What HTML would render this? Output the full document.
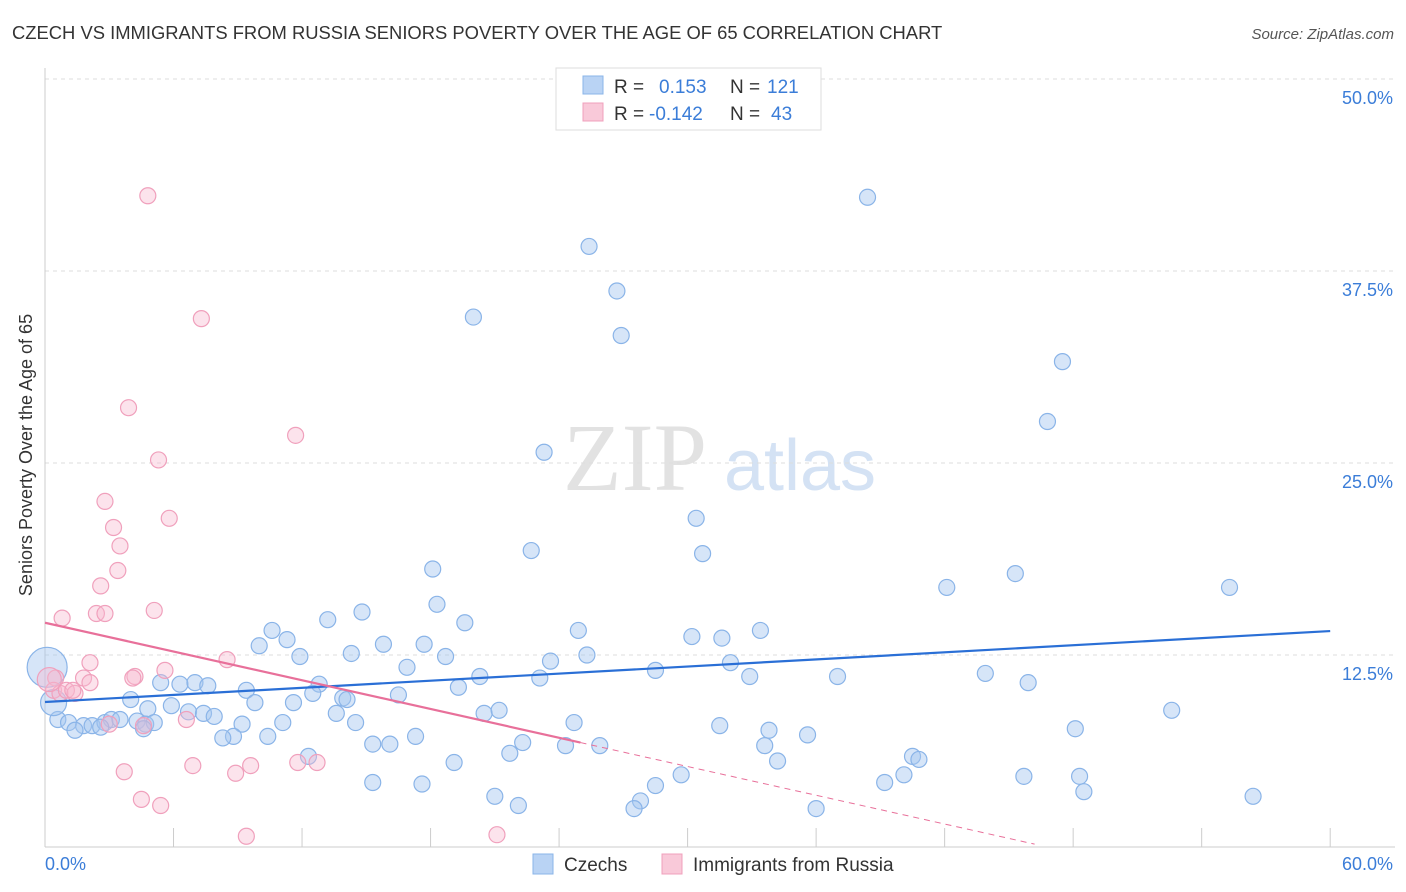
<!DOCTYPE html>
<html><head><meta charset="utf-8"><style>
body{margin:0;background:#fff;font-family:"Liberation Sans",sans-serif;}
svg{display:block}
</style></head><body>
<svg width="1406" height="892" id="chart">
<text x="12" y="39" font-size="18.4" fill="#333">CZECH VS IMMIGRANTS FROM RUSSIA SENIORS POVERTY OVER THE AGE OF 65 CORRELATION CHART</text>
<text x="1394" y="39" font-size="15" fill="#555" font-style="italic" text-anchor="end">Source: ZipAtlas.com</text>
<text x="32" y="455" font-size="18" fill="#333" text-anchor="middle" transform="rotate(-90 32 455)">Seniors Poverty Over the Age of 65</text>
<g>
<text x="635" y="490" font-size="96" fill="#e2e2e2" font-family="Liberation Serif,serif" text-anchor="middle">ZIP</text>
<text x="800" y="490" font-size="72" fill="#d4e2f4" text-anchor="middle">atlas</text>
</g>
<g id="grid"></g>
<g id="axes"></g>
<g id="pts"></g>
<g id="lines"></g>
<g>
<rect x="556" y="68" width="265" height="62" fill="#fff" stroke="#ddd"/>
<rect x="583" y="76" width="20" height="18" fill="#b9d3f4" stroke="#8ab4e8"/>
<rect x="583" y="103" width="20" height="18" fill="#f9c9d9" stroke="#f0a0bc"/>
<text x="614" y="93" font-size="19" fill="#333">R = <tspan fill="#3b7dd8" x="659">0.153</tspan><tspan x="730" fill="#333">N = </tspan><tspan fill="#3b7dd8" x="767">121</tspan></text>
<text x="614" y="120" font-size="19" fill="#333">R = <tspan fill="#3b7dd8" x="649">-0.142</tspan><tspan x="730" fill="#333">N = </tspan><tspan fill="#3b7dd8" x="771">43</tspan></text>
</g>
<g>
<rect x="533" y="854" width="20" height="20" fill="#b9d3f4" stroke="#8ab4e8"/>
<text x="564" y="871" font-size="19" fill="#333">Czechs</text>
<rect x="662" y="854" width="20" height="20" fill="#f9c9d9" stroke="#f0a0bc"/>
<text x="693" y="871" font-size="19" fill="#333">Immigrants from Russia</text>
</g>
</svg>
<script>
const blueX=[38.4,25.4,26.7,20.0,26.9,47.5,46.8,23.3,30.4,22.7,30.7,18.1,42.1,45.3,55.3,18.3,14.8,13.2,19.6,10.6,11.3,24.9,30.2,31.6,33.4,15.8,17.7,10.0,14.3,18.7,25.3,11.9,23.6,32.0,16.9,28.5,20.3,23.1,32.9,37.0,43.9,45.9,5.4,6.3,7.0,7.6,12.8,9.4,19.3,12.5,4.0,16.5,13.9,14.1,9.8,11.6,4.8,5.9,6.7,7.4,7.9,13.6,20.5,21.2,52.6,0.6,1.1,1.8,2.2,2.8,3.1,3.5,4.3,4.7,5.1,11.1,9.2,14.5,24.7,31.5,33.8,48.1,35.6,10.4,8.8,8.3,17.3,22.3,15.3,16.1,24.3,25.9,33.6,21.7,12.3,19.1,34.2,40.5,40.8,29.7,40.1,45.7,48.3,15.3,17.6,28.5,39.2,48.5,21.0,22.1,27.8,27.5,36.0,56.4,1.4,2.6,4.6,0.4,0.1];
const blueY=[42.3,39.1,36.2,34.5,33.3,31.6,27.7,25.7,21.4,19.3,19.1,18.1,16.9,17.8,16.9,15.8,15.3,14.8,14.6,14.1,13.5,14.1,13.7,13.6,14.1,13.2,13.2,13.1,12.6,12.4,12.5,12.4,12.1,12.0,11.7,11.5,11.1,11.0,11.1,11.1,11.3,10.7,10.7,10.6,10.7,10.5,10.6,10.2,10.4,10.0,9.6,9.9,9.7,9.6,9.4,9.4,9.0,9.2,8.8,8.7,8.5,8.7,8.7,8.9,8.9,8.3,8.1,7.9,7.9,8.1,8.3,8.3,8.2,8.0,8.1,8.1,8.0,8.1,8.1,7.9,7.6,7.7,7.3,7.2,7.2,7.1,7.2,6.8,6.7,6.7,6.6,6.6,6.6,6.1,5.9,5.5,5.6,5.9,5.7,4.7,4.7,4.6,4.6,4.2,4.1,4.0,4.2,3.6,3.3,2.7,3.0,2.5,2.5,3.3,7.6,7.8,7.7,9.4,11.7];
const pinkX=[4.8,7.3,3.9,11.7,5.3,2.8,5.8,3.2,3.5,3.4,2.6,0.8,2.4,2.8,5.1,2.1,5.6,4.2,8.5,1.8,2.1,4.1,0.5,0.4,0.7,1.0,1.4,1.3,6.6,3.0,4.6,12.7,6.9,8.9,9.6,3.7,4.5,5.4,9.4,21.1,0.2,11.8];
const pinkY=[42.4,34.4,28.6,26.8,25.2,22.5,21.4,20.8,19.6,18.0,17.0,14.9,15.2,15.2,15.4,12.0,11.5,11.1,12.2,11.0,10.7,11.0,11.0,10.2,10.0,10.2,10.0,10.2,8.3,8.0,7.9,5.5,5.3,4.8,5.3,4.9,3.1,2.7,0.7,0.8,10.9,5.5];
const xTicks=[0,6,12,18,24,30,36,42,48,54,60];
const yTicks=[12.5,25,37.5,50];
const yTickLabels=["12.5%","25.0%","37.5%","50.0%"];
const blueTrend=[9.44,14.06];
const pinkTrend=[14.6,-0.312];
const NS="http://www.w3.org/2000/svg";
const X=v=>45+v*21.42, Y=v=>847-v*15.36;
function mk(tag,attrs,parent){const e=document.createElementNS(NS,tag);for(const k in attrs)e.setAttribute(k,attrs[k]);document.getElementById(parent).appendChild(e);return e;}
yTicks.forEach((t,i)=>{
 const g=mk('line',{x1:45,x2:1395,y1:Y(t),y2:Y(t),stroke:'#ddd','stroke-dasharray':'4 4'},'grid');
 
 
 const l=mk('text',{x:1393,y:Y(t)+25,'font-size':18,fill:'#3b7dd8','text-anchor':'end'},'axes');
 l.textContent=yTickLabels[i];
 
 
});
const xa=mk('line',{x1:45,x2:1395,y1:847,y2:847,stroke:'#ccc'},'axes');


const ya=mk('line',{x1:45,x2:45,y1:68,y2:847,stroke:'#ccc'},'axes');


xTicks.forEach(t=>{const k=mk('line',{x1:X(t),x2:X(t),y1:828,y2:847,stroke:'#ccc'},'axes');
 
 });
const x0=mk('text',{x:45,y:870,'font-size':18,fill:'#3b7dd8'},'axes');x0.textContent='0.0%';


const x1=mk('text',{x:1393,y:870,'font-size':18,fill:'#3b7dd8','text-anchor':'end'},'axes');x1.textContent='60.0%';


blueX.forEach((v,i)=>{const r=i===blueX.length-1?20:(i===blueX.length-2?13:8);
 const c=mk('circle',{cx:X(v),cy:Y(blueY[i]),r:r,fill:'rgba(165,198,240,0.45)',stroke:'#8ab4e8','stroke-width':1.2},'pts');
 
 });
pinkX.forEach((v,i)=>{const r=i===pinkX.length-2?12:8;
 const c=mk('circle',{cx:X(v),cy:Y(pinkY[i]),r:r,fill:'rgba(248,185,207,0.4)',stroke:'#f0a0bc','stroke-width':1.2},'pts');
 
 });
const bl=mk('line',{x1:X(0),y1:Y(blueTrend[0]),x2:X(60),y2:Y(blueTrend[1]),stroke:'#2a6fd6','stroke-width':2.2},'lines');


const pe=25, pd=46.2;
const pl=mk('line',{x1:X(0),y1:Y(pinkTrend[0]),x2:X(pe),y2:Y(pinkTrend[0]+pinkTrend[1]*pe),stroke:'#e8709a','stroke-width':2.2},'lines');


const pdl=mk('line',{x1:X(pe),y1:Y(pinkTrend[0]+pinkTrend[1]*pe),x2:X(pd),y2:Y(pinkTrend[0]+pinkTrend[1]*pd),stroke:'#e8709a','stroke-width':1,'stroke-dasharray':'6 5'},'lines');


</script>
</body></html>
